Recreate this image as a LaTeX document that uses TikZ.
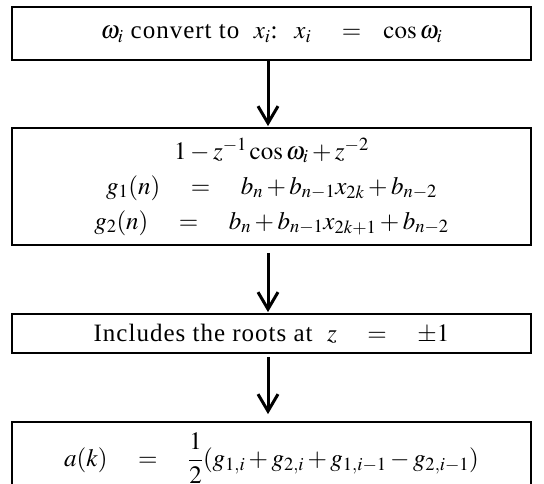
\documentclass[tikz,border=0pt]{standalone}
\usepackage{mathptmx}
\usepackage{fontspec}
\setmainfont{Liberation Serif}[LetterSpace=4]
\usetikzlibrary{arrows.meta}
\begin{document}
\begin{tikzpicture}[x=1pt,y=-1pt,
  box/.style={draw,line width=1.8pt,minimum width=519pt,inner sep=0pt,align=center,
    font=\fontsize{25}{35}\selectfont},
  arr/.style={line width=3pt,-{Straight Barb[length=17pt,width=20pt,line width=3pt]}}]
\useasboundingbox (0,0) rectangle (544,483);
\node[box,minimum height=53pt] (b1) at (271.5,33.5)
  {$\omega_i$ convert to \ $x_i$: \ $x_i\quad=\;\;\;\cos\omega_i$};
\node[box,minimum height=117pt] (b2) at (271.5,186.5)
  {$1-z^{-1}\cos\omega_i+z^{-2}$\\
   $g_1(n)\quad=\quad b_n+b_{n-1}x_{2k}+b_{n-2}$\\
   $g_2(n)\quad=\quad b_n+b_{n-1}x_{2k+1}+b_{n-2}$};
\node[box,minimum height=39pt] (b3) at (271.5,333.5)
  {Includes the roots at \ $z\quad=\quad\pm1$};
\node[box,minimum height=72pt] (b4) at (271.5,458)
  {\raisebox{3pt}{$a(k)\quad=\quad{\displaystyle\frac{1}{2}}(g_{1,i}+g_{2,i}+g_{1,i-1}-g_{2,i-1})$}};
\draw[arr] ([xshift=-3.5pt]b1.south) -- ([xshift=-3.5pt,yshift=1pt]b2.north);
\draw[arr] ([xshift=-3.5pt,yshift=-7pt]b2.south) -- ([xshift=-3.5pt,yshift=1pt]b3.north);
\draw[arr] ([xshift=-3.5pt,yshift=-3pt]b3.south) -- ([xshift=-3.5pt,yshift=7pt]b4.north);
\end{tikzpicture}
\end{document}
